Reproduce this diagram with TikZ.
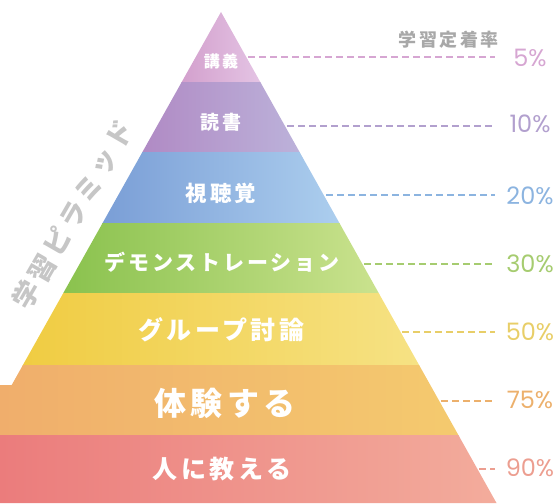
\documentclass[tikz,border=0pt]{standalone}
\usepackage{fontspec}
\newfontfamily\jpfont[LetterSpace=14]{Noto Sans CJK JP}
\newfontfamily\pctfont{Poppins}
\definecolor{kogiL}{RGB}{211,160,205}
\definecolor{kogiR}{RGB}{228,196,228}
\definecolor{dokuL}{RGB}{176,138,196}
\definecolor{dokuR}{RGB}{188,178,218}
\definecolor{shiL}{RGB}{122,158,214}
\definecolor{shiR}{RGB}{172,206,238}
\definecolor{demoL}{RGB}{138,194,78}
\definecolor{demoR}{RGB}{202,226,142}
\definecolor{groL}{RGB}{240,204,66}
\definecolor{groR}{RGB}{246,226,132}
\definecolor{taiL}{RGB}{240,174,108}
\definecolor{taiR}{RGB}{244,202,110}
\definecolor{hitoL}{RGB}{235,124,124}
\definecolor{hitoR}{RGB}{243,172,156}
\definecolor{p5}{RGB}{214,166,210}
\definecolor{p10}{RGB}{178,160,206}
\definecolor{p20}{RGB}{140,180,224}
\definecolor{p30}{RGB}{166,204,112}
\definecolor{p50}{RGB}{232,206,104}
\definecolor{p75}{RGB}{236,176,108}
\definecolor{p90}{RGB}{236,158,144}
\definecolor{grey1}{RGB}{168,168,168}
\definecolor{grey2}{RGB}{198,198,198}

\begin{document}
\begin{tikzpicture}[x=1pt,y=-1pt,
   lbl/.style={text=white,inner sep=0pt,font=\jpfont\bfseries\fontsize{#1}{#1}\selectfont},
   pct/.style={font=\pctfont\fontsize{24}{24}\selectfont,inner sep=0pt},
   lead/.style={line width=2pt,dash pattern=on 7pt off 4pt}]
   \useasboundingbox (0,0) rectangle (559,503);
   % bands
   \begin{scope}
      \clip (221,12) -- (496.5,503) -- (0,503) -- (0,385) -- (11.7,385) -- cycle;
      \shade [left color=kogiL, right color=kogiR] (181,12)  rectangle (261,83);
      \shade [left color=dokuL, right color=dokuR] (142,82)  rectangle (300,153);
      \shade [left color=shiL , right color=shiR ] (102,152) rectangle (340,224);
      \shade [left color=demoL, right color=demoR] (63,223)  rectangle (379,294);
      \shade [left color=groL , right color=groR ] (22,293)  rectangle (420,366);
      \shade [left color=taiL , right color=taiR ] (0,365)   rectangle (459,436);
      \shade [left color=hitoL, right color=hitoR] (0,435)   rectangle (497,503);
   \end{scope}
   % labels
   \node [lbl=16]   (kogi) at (221,61)  {講義};
   \node [lbl=19]   (doku) at (221,122) {読書};
   \node [lbl=21.5] (shi)  at (221,193) {視聴覚};
   \node [lbl=21]   (demo) at (222,262) {デモンストレーション};
   \node [lbl=25]   (gro)  at (221,330) {グループ討論};
   \node [lbl=32]   (tai)  at (225,403) {体験する};
   \node [lbl=25]   (hito) at (222,469) {人に教える};
   \node [text=grey1, font=\jpfont\bfseries\fontsize{18}{18}\selectfont, anchor=east, inner sep=0pt] (rate) at (499,40) {学習定着率};
   \node [text=grey2, font=\jpfont\bfseries\fontsize{27}{27}\selectfont, rotate=60, inner sep=0pt] (pyr) at (73,215) {学習ピラミッド};
   % percentages
   \node [pct, text=p5 ] (n5)  at (530,58)  {5\%};
   \node [pct, text=p10] (n10) at (530,124) {10\%};
   \node [pct, text=p20] (n20) at (530,196) {20\%};
   \node [pct, text=p30] (n30) at (530,264) {30\%};
   \node [pct, text=p50] (n50) at (530,332) {50\%};
   \node [pct, text=p75] (n75) at (530,400) {75\%};
   \node [pct, text=p90] (n90) at (530,468) {90\%};
   % leader lines
   \coordinate (s5)  at (248,57);  \coordinate (e5)  at (495,57);
   \coordinate (s10) at (287,126); \coordinate (e10) at (495,126);
   \coordinate (s20) at (326,195); \coordinate (e20) at (495,195);
   \coordinate (s30) at (364,264); \coordinate (e30) at (495,264);
   \coordinate (s50) at (402,332); \coordinate (e50) at (495,332);
   \coordinate (s75) at (441,401); \coordinate (e75) at (495,401);
   \coordinate (s90) at (479,469); \coordinate (e90) at (495,469);
   \draw [lead, p5 ] (s5)  -- (e5);
   \draw [lead, p10] (s10) -- (e10);
   \draw [lead, p20] (s20) -- (e20);
   \draw [lead, p30] (s30) -- (e30);
   \draw [lead, p50] (s50) -- (e50);
   \draw [lead, p75] (s75) -- (e75);
   \draw [lead, p90] (s90) -- (e90);
\end{tikzpicture}
\end{document}
